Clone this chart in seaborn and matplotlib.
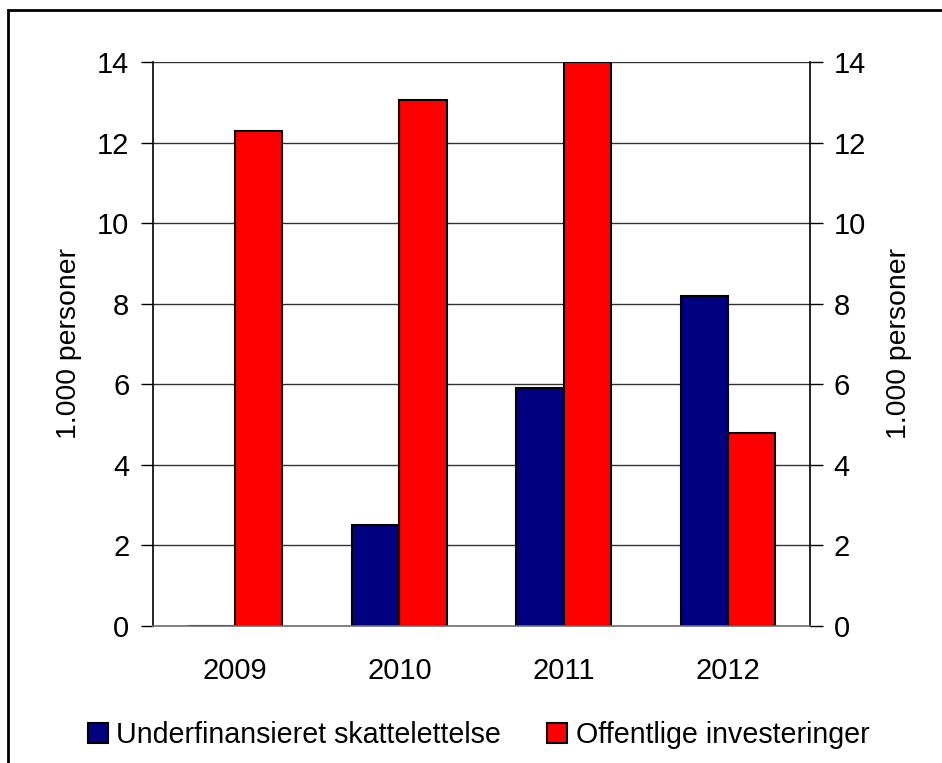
import pandas as pd
import matplotlib.pyplot as plt
import seaborn as sns
from matplotlib.patches import Rectangle

# Data (1.000 personer)
years = ['2009', '2010', '2011', '2012']
skattelettelse = [0.0, 2.5, 5.9, 8.2]
investeringer = [12.3, 13.05, 14.0, 4.8]
series_names = ['Underfinansieret skattelettelse', 'Offentlige investeringer']
yticks = [0, 2, 4, 6, 8, 10, 12, 14]

df = pd.DataFrame({
    'year': years * 2,
    'serie': [series_names[0]] * 4 + [series_names[1]] * 4,
    'value': skattelettelse + investeringer,
})

sns.set_theme(style='white')
plt.rcParams['font.family'] = ['Liberation Sans', 'DejaVu Sans']
plt.rcParams['text.color'] = 'black'
plt.rcParams['axes.labelcolor'] = 'black'
plt.rcParams['xtick.color'] = 'black'
plt.rcParams['ytick.color'] = 'black'

fs = 21
label_fs = 20.4

fig = plt.figure(figsize=(9.42, 7.63), dpi=100)
ax = fig.add_axes([0.1624, 0.1796, 0.6976, 0.7391])

sns.barplot(data=df, x='year', y='value', hue='serie', hue_order=series_names,
            palette=['#000080', '#FF0000'], width=0.575, edgecolor='black',
            linewidth=1.5, saturation=1, ax=ax, legend=True)

ax.set_xlim(-0.5, 3.5)
ax.set_ylim(0, 14)
ax.set_yticks(yticks)
ax.set_xlabel('')
ax.set_ylabel('1.000 personer', fontsize=label_fs, labelpad=11)
ax.yaxis.grid(True, color='#333333', linewidth=1)
ax.set_axisbelow(True)

# ticks between categories on x
ax.set_xticks([-0.5, 0.5, 1.5, 2.5, 3.5], minor=True)
ax.tick_params(axis='x', which='major', length=0, labelsize=fs, pad=22)
ax.tick_params(axis='x', which='minor', length=10, width=1, color='#707070', direction='out')
ax.tick_params(axis='y', length=9, width=1, color='black', direction='out', labelsize=fs, pad=8)

for side in ['left', 'right']:
    ax.spines[side].set_color('black')
    ax.spines[side].set_linewidth(1.2)
ax.spines['top'].set_visible(False)
ax.spines['bottom'].set_color('#707070')
ax.spines['bottom'].set_linewidth(1.2)

# right axis mirrors the left one
ax2 = ax.twinx()
ax2.set_ylim(0, 14)
ax2.set_yticks(yticks)
ax2.set_ylabel('1.000 personer', fontsize=label_fs, labelpad=14, rotation=90)
ax2.tick_params(axis='y', length=9, width=1, color='black', direction='out', labelsize=fs, pad=8)
for s in ax2.spines.values():
    s.set_visible(False)

handles, labels = ax.get_legend_handles_labels()
ax.get_legend().remove()
fig.legend(handles, labels, loc='center', bbox_to_anchor=(0.508, 0.037), ncol=2,
           frameon=False, fontsize=20.6, handlelength=0.7, handleheight=0.7,
           handletextpad=0.3, columnspacing=1.6)

# outer frame (partly cut off in the source)
fig.patches.append(Rectangle((0.0085, -0.05), 1.1, 0.05 + 0.987, transform=fig.transFigure,
                             fill=False, edgecolor='black', linewidth=2, clip_on=False))

fig.savefig('out.png', dpi=100)
